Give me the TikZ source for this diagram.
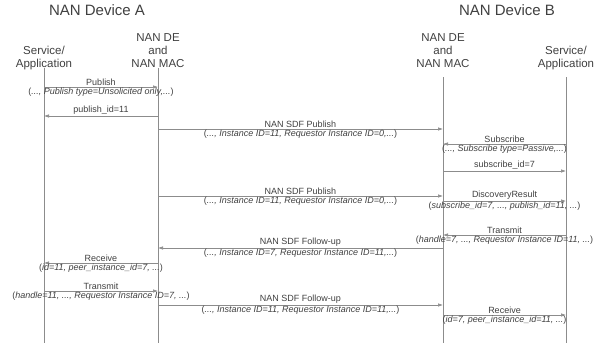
\documentclass[tikz,border=0pt]{standalone}
\usepackage{fontspec}
\setmainfont{Liberation Sans}
\usepackage{tikz}
\usetikzlibrary{arrows.meta}
\definecolor{linegray}{rgb}{0.55,0.55,0.55}
\definecolor{textgray}{rgb}{0.25,0.25,0.25}

\begin{document}
\begin{tikzpicture}[x=1pt, y=-1pt,
    head/.style={anchor=north, align=center, inner sep=0pt, text=textgray,
        font=\fontsize{11.5}{13}\selectfont},
    title/.style={text=textgray, inner sep=0pt, font=\fontsize{15}{17}\selectfont},
    life/.style={draw=linegray, line width=0.8pt},
    msg/.style={draw=linegray, line width=0.6pt, -{Latex[length=5pt,width=3.5pt]}},
    lbl/.style={above, inner sep=1pt, text=textgray, font=\fontsize{9}{10}\selectfont},
    sub/.style={below, inner sep=1pt, text=textgray, font=\fontsize{9}{10}\selectfont}]
    \useasboundingbox (0,0) rectangle (604,345);

    \node[title] (devA) at (97,10) {NAN Device A};
    \node[title] (devB) at (507,10) {NAN Device B};

    \node[head] (svcA) at (44,46) {Service/\\Application};
    \node[head] (deA) at (158,33) {NAN DE\\and\\NAN MAC};
    \node[head] (deB) at (443,33) {NAN DE\\and\\NAN MAC};
    \node[head] (svcB) at (566,46) {Service/\\Application};

    \draw[life] (svcA |- 0,68) -- (svcA |- 0,343);
    \draw[life] (deA |- 0,68) -- (deA |- 0,343);
    \draw[life] (deB |- 0,77) -- (deB |- 0,343);
    \draw[life] (svcB |- 0,77) -- (svcB |- 0,343);

    \draw[msg] (svcA |- 0,87) -- node[lbl] {Publish}
        node[sub] {(\textit{..., Publish type=Unsolicited only,...})} (deA |- 0,87);
    \draw[msg] (deA |- 0,116) -- node[lbl] {publish\_id=11} (svcA |- 0,116);
    \draw[msg] (deA |- 0,129) -- node[lbl] {NAN SDF Publish}
        node[sub] {(\textit{..., Instance ID=11, Requestor Instance ID=0,...})} (deB |- 0,129);
    \draw[msg] (svcB |- 0,144) -- node[lbl] {Subscribe}
        node[sub] {(\textit{..., Subscribe type=Passive,...})} (deB |- 0,144);
    \draw[msg] (deB |- 0,171) -- node[lbl] {subscribe\_id=7} (svcB |- 0,171);
    \draw[msg] (deA |- 0,196) -- node[lbl] {NAN SDF Publish}
        node[sub] {(\textit{..., Instance ID=11, Requestor Instance ID=0,...})} (deB |- 0,196);
    \draw[msg] (deB |- 0,201) -- node[lbl] {DiscoveryResult}
        node[sub] {(\textit{subscribe\_id=7, ..., publish\_id=11, ...})} (svcB |- 0,201);
    \draw[msg] (svcB |- 0,235) -- node[lbl] {Transmit}
        node[sub] {(\textit{handle=7, ..., Requestor Instance ID=11, ...})} (deB |- 0,235);
    \draw[msg] (deB |- 0,248) -- node[lbl] {NAN SDF Follow-up}
        node[sub] {(\textit{..., Instance ID=7, Requestor Instance ID=11,...})} (deA |- 0,248);
    \draw[msg] (deA |- 0,263) -- node[lbl] {Receive}
        node[sub] {(\textit{id=11, peer\_instance\_id=7, ...})} (svcA |- 0,263);
    \draw[msg] (svcA |- 0,291) -- node[lbl] {Transmit}
        node[sub] {(\textit{handle=11, ..., Requestor Instance ID=7, ...})} (deA |- 0,291);
    \draw[msg] (deA |- 0,305) -- node[lbl] {NAN SDF Follow-up}
        node[sub] {(\textit{..., Instance ID=11, Requestor Instance ID=11,...})} (deB |- 0,305);
    \draw[msg] (deB |- 0,315) -- node[lbl] {Receive}
        node[sub] {(\textit{id=7, peer\_instance\_id=11, ...})} (svcB |- 0,315);
\end{tikzpicture}
\end{document}
